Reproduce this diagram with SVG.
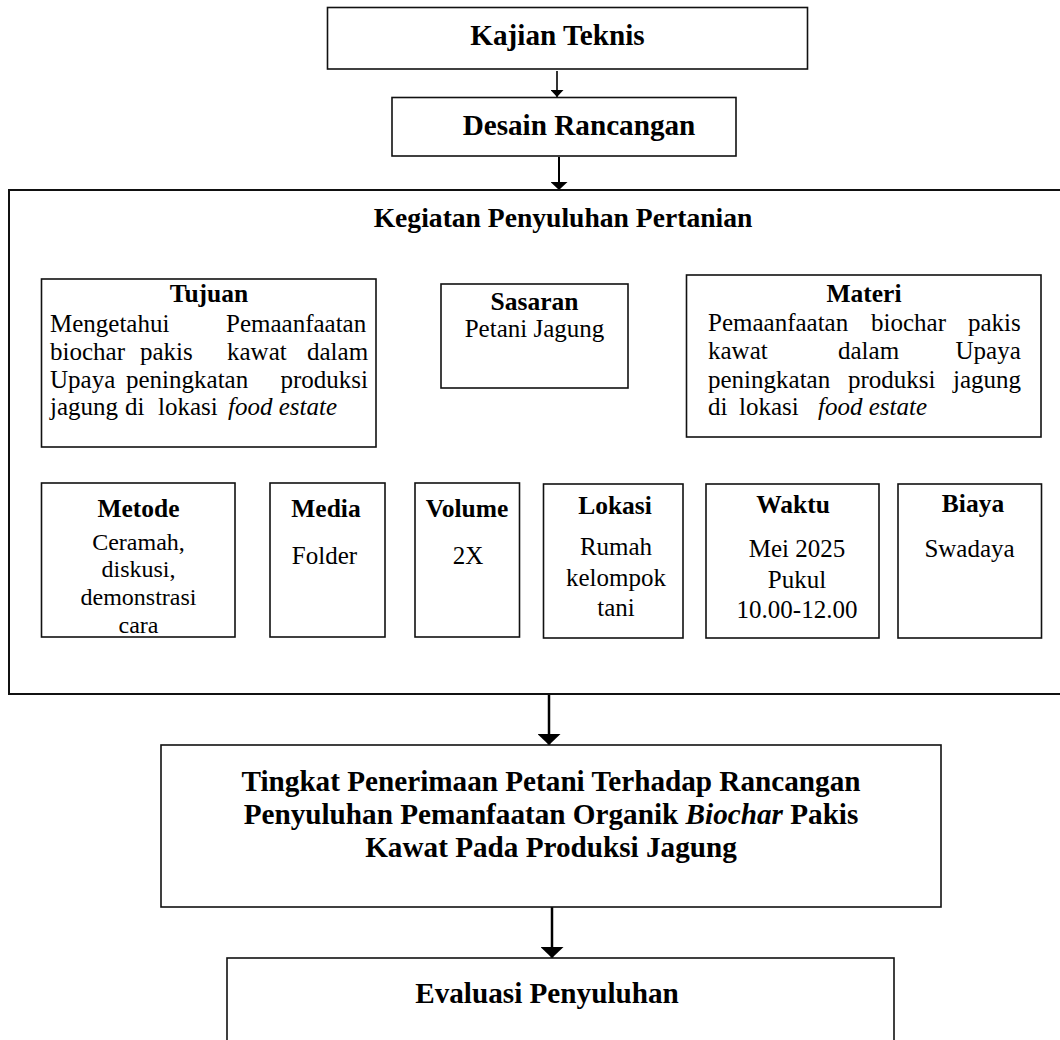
<svg xmlns="http://www.w3.org/2000/svg" width="1060" height="1040" viewBox="0 0 1060 1040">
<style>
  .box { fill: #ffffff; stroke: #111111; stroke-width: 1.6; }
  .big { fill: none; stroke: #111111; stroke-width: 2; }
  .t { font-family: "Liberation Serif", "Times New Roman", serif; fill: #000000; }
  .h1 { font-size: 29.2px; font-weight: bold; text-anchor: middle; }
  .h2 { font-size: 25.5px; font-weight: bold; text-anchor: middle; }
  .b { font-size: 25px; }
  .bc { font-size: 25px; text-anchor: middle; }
  .it { font-style: italic; }
  .con { stroke: #000000; fill: none; }
</style>
<defs>
  <marker id="ah" viewBox="0 0 10 10" refX="10" refY="5" markerUnits="userSpaceOnUse" markerWidth="7" markerHeight="13" orient="auto" preserveAspectRatio="none">
    <path d="M0,0 L10,5 L0,10 Z" fill="#000000"/>
  </marker>
  <marker id="ahm" viewBox="0 0 10 10" refX="10" refY="5" markerUnits="userSpaceOnUse" markerWidth="8" markerHeight="17" orient="auto" preserveAspectRatio="none">
    <path d="M0,0 L10,5 L0,10 Z" fill="#000000"/>
  </marker>
  <marker id="ahl" viewBox="0 0 10 10" refX="10" refY="5" markerUnits="userSpaceOnUse" markerWidth="11" markerHeight="23" orient="auto" preserveAspectRatio="none">
    <path d="M0,0 L10,5 L0,10 Z" fill="#000000"/>
  </marker>
</defs>

<g id="connectors">
  <line class="con" x1="557" y1="71" x2="557" y2="97" stroke-width="1.6" marker-end="url(#ah)"/>
  <line class="con" x1="559" y1="157" x2="559" y2="190" stroke-width="2" marker-end="url(#ahm)"/>
  <line class="con" x1="549" y1="695" x2="549" y2="745" stroke-width="2.5" marker-end="url(#ahl)"/>
  <line class="con" x1="552" y1="907" x2="552" y2="958" stroke-width="2.5" marker-end="url(#ahl)"/>
</g>

<g id="kajian">
  <rect class="box" x="327.5" y="7.5" width="480" height="61.5"/>
  <text class="t h1" x="557.5" y="45">Kajian Teknis</text>
</g>

<g id="desain">
  <rect class="box" x="392" y="97.5" width="344" height="58.5"/>
  <text class="t h1" x="579" y="135">Desain Rancangan</text>
</g>

<g id="kegiatan">
  <rect class="big" x="9" y="190" width="1065" height="504"/>
  <text class="t h1" x="563" y="227" style="font-size:27.6px">Kegiatan Penyuluhan Pertanian</text>
</g>

<g id="tujuan">
  <rect class="box" x="41.5" y="279" width="334.5" height="168"/>
  <text class="t h2" x="209" y="302">Tujuan</text>
  <text class="t b" y="332"><tspan x="50">Mengetahui</tspan><tspan x="226">Pemaanfaatan</tspan></text>
  <text class="t b" y="360"><tspan x="50">biochar</tspan><tspan x="140">pakis</tspan><tspan x="227">kawat</tspan><tspan x="307">dalam</tspan></text>
  <text class="t b" y="387.5"><tspan x="50">Upaya</tspan><tspan x="126">peningkatan</tspan><tspan x="280.5">produksi</tspan></text>
  <text class="t b" y="415"><tspan x="50">jagung</tspan><tspan x="125">di</tspan><tspan x="158">lokasi</tspan><tspan class="it" x="228">food estate</tspan></text>
</g>

<g id="sasaran">
  <rect class="box" x="441" y="284" width="187" height="104"/>
  <text class="t h2" x="534.5" y="310">Sasaran</text>
  <text class="t bc" x="534.5" y="337">Petani Jagung</text>
</g>

<g id="materi">
  <rect class="box" x="686.5" y="275" width="354.5" height="162"/>
  <text class="t h2" x="864" y="302">Materi</text>
  <text class="t b" y="331"><tspan x="708">Pemaanfaatan</tspan><tspan x="871">biochar</tspan><tspan x="968">pakis</tspan></text>
  <text class="t b" y="359"><tspan x="708">kawat</tspan><tspan x="838">dalam</tspan><tspan x="955.5">Upaya</tspan></text>
  <text class="t b" y="388"><tspan x="708">peningkatan</tspan><tspan x="848">produksi</tspan><tspan x="953">jagung</tspan></text>
  <text class="t b" y="415"><tspan x="708">di</tspan><tspan x="739">lokasi</tspan><tspan class="it" x="818">food estate</tspan></text>
</g>

<g id="metode">
  <rect class="box" x="41.5" y="483" width="193.5" height="154"/>
  <text class="t h2" x="138.5" y="517">Metode</text>
  <text class="t bc" x="138.5" y="550" style="font-size:24px">Ceramah,</text>
  <text class="t bc" x="138.5" y="577" style="font-size:24px">diskusi,</text>
  <text class="t bc" x="138.5" y="605" style="font-size:24px">demonstrasi</text>
  <text class="t bc" x="138.5" y="633" style="font-size:24px">cara</text>
</g>

<g id="media">
  <rect class="box" x="270" y="483" width="115" height="154"/>
  <text class="t h2" x="326" y="517">Media</text>
  <text class="t bc" x="324.5" y="564">Folder</text>
</g>

<g id="volume">
  <rect class="box" x="415" y="483" width="104.5" height="154"/>
  <text class="t h2" x="467" y="517">Volume</text>
  <text class="t bc" x="468" y="564">2X</text>
</g>

<g id="lokasi">
  <rect class="box" x="543.5" y="484" width="139.5" height="154"/>
  <text class="t h2" x="615" y="514">Lokasi</text>
  <text class="t bc" x="616" y="555">Rumah</text>
  <text class="t bc" x="616" y="586">kelompok</text>
  <text class="t bc" x="616" y="616">tani</text>
</g>

<g id="waktu">
  <rect class="box" x="706" y="484" width="173" height="154"/>
  <text class="t h2" x="793" y="513">Waktu</text>
  <text class="t bc" x="797" y="557">Mei 2025</text>
  <text class="t bc" x="797" y="588">Pukul</text>
  <text class="t bc" x="797" y="618">10.00-12.00</text>
</g>

<g id="biaya">
  <rect class="box" x="898" y="484" width="143.5" height="154"/>
  <text class="t h2" x="973" y="512">Biaya</text>
  <text class="t bc" x="969.5" y="557">Swadaya</text>
</g>

<g id="tingkat">
  <rect class="box" x="161" y="745" width="780" height="162"/>
  <text class="t h1" x="551" y="791">Tingkat Penerimaan Petani Terhadap Rancangan</text>
  <text class="t h1" x="551" y="824">Penyuluhan Pemanfaatan Organik <tspan font-style="italic">Biochar</tspan> Pakis</text>
  <text class="t h1" x="551" y="857">Kawat Pada Produksi Jagung</text>
</g>

<g id="evaluasi">
  <rect class="box" x="227" y="958" width="667" height="100"/>
  <text class="t h1" x="547" y="1003">Evaluasi Penyuluhan</text>
</g>
</svg>
